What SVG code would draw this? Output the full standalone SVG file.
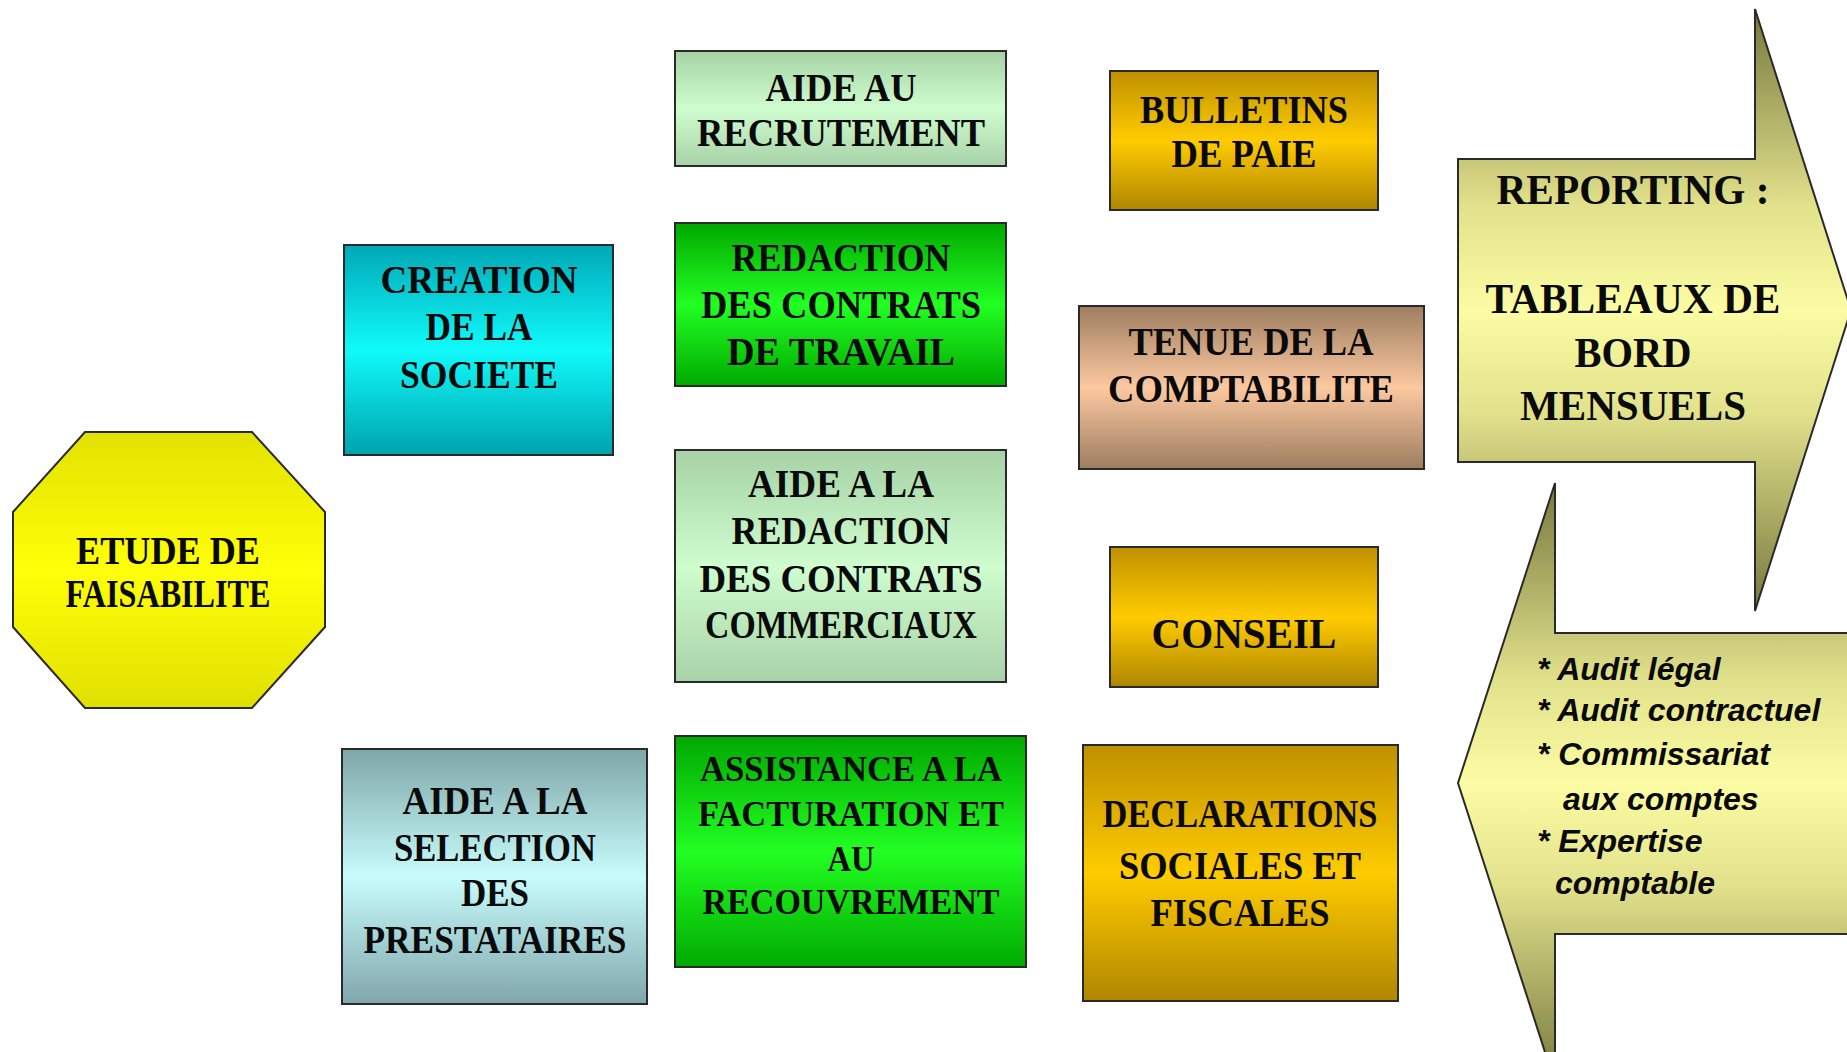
<svg xmlns="http://www.w3.org/2000/svg" width="1847" height="1052" viewBox="0 0 1847 1052">
<defs>
<linearGradient id="gYellow" x1="0" y1="0" x2="0" y2="1"><stop offset="0" stop-color="#e2e200"/><stop offset="0.5" stop-color="#ffff08"/><stop offset="1" stop-color="#e0e000"/></linearGradient>
<linearGradient id="gCyan" x1="0" y1="0" x2="0" y2="1"><stop offset="0" stop-color="#00a8b6"/><stop offset="0.5" stop-color="#10fafa"/><stop offset="1" stop-color="#00a2ae"/></linearGradient>
<linearGradient id="gLight" x1="0" y1="0" x2="0" y2="1"><stop offset="0" stop-color="#a6d2a6"/><stop offset="0.5" stop-color="#cffdcf"/><stop offset="1" stop-color="#a8d2a8"/></linearGradient>
<linearGradient id="gGreen" x1="0" y1="0" x2="0" y2="1"><stop offset="0" stop-color="#00a800"/><stop offset="0.5" stop-color="#22ff22"/><stop offset="1" stop-color="#00aa00"/></linearGradient>
<linearGradient id="gTeal" x1="0" y1="0" x2="0" y2="1"><stop offset="0" stop-color="#7fa6a8"/><stop offset="0.5" stop-color="#c8fcfc"/><stop offset="1" stop-color="#80a6ac"/></linearGradient>
<linearGradient id="gGold" x1="0" y1="0" x2="0" y2="1"><stop offset="0" stop-color="#bf9000"/><stop offset="0.5" stop-color="#ffcc00"/><stop offset="1" stop-color="#b08600"/></linearGradient>
<linearGradient id="gTan" x1="0" y1="0" x2="0" y2="1"><stop offset="0" stop-color="#9e7e60"/><stop offset="0.5" stop-color="#fcc8a0"/><stop offset="1" stop-color="#9c7e60"/></linearGradient>
<linearGradient id="gArrow" x1="0" y1="0" x2="0" y2="1"><stop offset="0" stop-color="#77773e"/><stop offset="0.33" stop-color="#e2e28c"/><stop offset="0.5" stop-color="#fcfca4"/><stop offset="0.67" stop-color="#e2e28c"/><stop offset="1" stop-color="#77773e"/></linearGradient>
</defs>
<style>
.box{stroke:#2a2a2a;stroke-width:2}
.t{font-family:"Liberation Serif","Times New Roman",serif;font-weight:bold;font-size:39px;fill:#0a0a0a;text-anchor:middle}
.a{font-family:"Liberation Sans",Arial,sans-serif;font-weight:bold;font-style:italic;font-size:32px;fill:#0a0a0a}
</style>
<rect width="1847" height="1052" fill="#ffffff"/>
<g id="connectors"/>
<g id="etude">
<polygon class="box" fill="url(#gYellow)" points="85,432 252,432 325,512 325,627 252,708 85,708 13,627 13,512"/>
<text class="t" x="168" y="564" textLength="184" lengthAdjust="spacingAndGlyphs">ETUDE DE</text>
<text class="t" x="168" y="607" textLength="205" lengthAdjust="spacingAndGlyphs">FAISABILITE</text>
</g>
<g id="creation">
<rect class="box" fill="url(#gCyan)" x="344" y="245" width="269" height="210"/>
<text class="t" x="479" y="293" textLength="197" lengthAdjust="spacingAndGlyphs">CREATION</text>
<text class="t" x="479" y="340" textLength="107" lengthAdjust="spacingAndGlyphs">DE LA</text>
<text class="t" x="479" y="388" textLength="158" lengthAdjust="spacingAndGlyphs">SOCIETE</text>
</g>
<g id="selection">
<rect class="box" fill="url(#gTeal)" x="342" y="749" width="305" height="255"/>
<text class="t" x="495" y="814" textLength="185" lengthAdjust="spacingAndGlyphs">AIDE A LA</text>
<text class="t" x="495" y="861" textLength="202" lengthAdjust="spacingAndGlyphs">SELECTION</text>
<text class="t" x="495" y="906" textLength="68" lengthAdjust="spacingAndGlyphs">DES</text>
<text class="t" x="495" y="953" textLength="263" lengthAdjust="spacingAndGlyphs">PRESTATAIRES</text>
</g>
<g id="recrutement">
<rect class="box" fill="url(#gLight)" x="675" y="51" width="331" height="115"/>
<text class="t" x="841" y="101" textLength="151" lengthAdjust="spacingAndGlyphs">AIDE AU</text>
<text class="t" x="841" y="146" textLength="288" lengthAdjust="spacingAndGlyphs">RECRUTEMENT</text>
</g>
<g id="contrats-travail">
<rect class="box" fill="url(#gGreen)" x="675" y="223" width="331" height="163"/>
<text class="t" x="841" y="271" textLength="219" lengthAdjust="spacingAndGlyphs">REDACTION</text>
<text class="t" x="841" y="318" textLength="280" lengthAdjust="spacingAndGlyphs">DES CONTRATS</text>
<text class="t" x="841" y="365" textLength="228" lengthAdjust="spacingAndGlyphs">DE TRAVAIL</text>
</g>
<g id="contrats-commerciaux">
<rect class="box" fill="url(#gLight)" x="675" y="450" width="331" height="232"/>
<text class="t" x="841" y="497" textLength="186" lengthAdjust="spacingAndGlyphs">AIDE A LA</text>
<text class="t" x="841" y="544" textLength="219" lengthAdjust="spacingAndGlyphs">REDACTION</text>
<text class="t" x="841" y="592" textLength="283" lengthAdjust="spacingAndGlyphs">DES CONTRATS</text>
<text class="t" x="841" y="638" textLength="272" lengthAdjust="spacingAndGlyphs">COMMERCIAUX</text>
</g>
<g id="facturation">
<rect class="box" fill="url(#gGreen)" x="675" y="736" width="351" height="231"/>
<text class="t" x="851" y="781" style="font-size:36px" textLength="302" lengthAdjust="spacingAndGlyphs">ASSISTANCE A LA</text>
<text class="t" x="851" y="826" style="font-size:36px" textLength="306" lengthAdjust="spacingAndGlyphs">FACTURATION ET</text>
<text class="t" x="851" y="871" style="font-size:36px" textLength="47" lengthAdjust="spacingAndGlyphs">AU</text>
<text class="t" x="851" y="914" style="font-size:36px" textLength="297" lengthAdjust="spacingAndGlyphs">RECOUVREMENT</text>
</g>
<g id="bulletins">
<rect class="box" fill="url(#gGold)" x="1110" y="71" width="268" height="139"/>
<text class="t" x="1244" y="123" textLength="208" lengthAdjust="spacingAndGlyphs">BULLETINS</text>
<text class="t" x="1244" y="167" textLength="145" lengthAdjust="spacingAndGlyphs">DE PAIE</text>
</g>
<g id="comptabilite">
<rect class="box" fill="url(#gTan)" x="1079" y="306" width="345" height="163"/>
<text class="t" x="1251" y="355" textLength="245" lengthAdjust="spacingAndGlyphs">TENUE DE LA</text>
<text class="t" x="1251" y="402" textLength="286" lengthAdjust="spacingAndGlyphs">COMPTABILITE</text>
</g>
<g id="conseil">
<rect class="box" fill="url(#gGold)" x="1110" y="547" width="268" height="140"/>
<text class="t" x="1244" y="648" style="font-size:43px" textLength="185" lengthAdjust="spacingAndGlyphs">CONSEIL</text>
</g>
<g id="declarations">
<rect class="box" fill="url(#gGold)" x="1083" y="745" width="315" height="256"/>
<text class="t" x="1240" y="827" textLength="275" lengthAdjust="spacingAndGlyphs">DECLARATIONS</text>
<text class="t" x="1240" y="879" textLength="242" lengthAdjust="spacingAndGlyphs">SOCIALES ET</text>
<text class="t" x="1240" y="926" textLength="179" lengthAdjust="spacingAndGlyphs">FISCALES</text>
</g>
<g id="reporting">
<path class="box" fill="url(#gArrow)" d="M1458,159 L1755,159 L1755,9 L1851,310 L1755,611 L1755,462 L1458,462 Z"/>
<text class="t" x="1633" y="204" style="font-size:43px" textLength="273" lengthAdjust="spacingAndGlyphs">REPORTING :</text>
<text class="t" x="1633" y="313" style="font-size:43px" textLength="295" lengthAdjust="spacingAndGlyphs">TABLEAUX DE</text>
<text class="t" x="1633" y="367" style="font-size:43px" textLength="117" lengthAdjust="spacingAndGlyphs">BORD</text>
<text class="t" x="1633" y="420" style="font-size:43px" textLength="226" lengthAdjust="spacingAndGlyphs">MENSUELS</text>
</g>
<g id="audit">
<path class="box" fill="url(#gArrow)" d="M1860,633 L1555,633 L1555,483 L1458,783 L1555,1083 L1555,934 L1860,934 Z"/>
<text class="a" x="1537" y="680">* Audit légal</text>
<text class="a" x="1537" y="721">* Audit contractuel</text>
<text class="a" x="1537" y="765">* Commissariat</text>
<text class="a" x="1563" y="810">aux comptes</text>
<text class="a" x="1537" y="852">* Expertise</text>
<text class="a" x="1555" y="894">comptable</text>
</g>
</svg>
